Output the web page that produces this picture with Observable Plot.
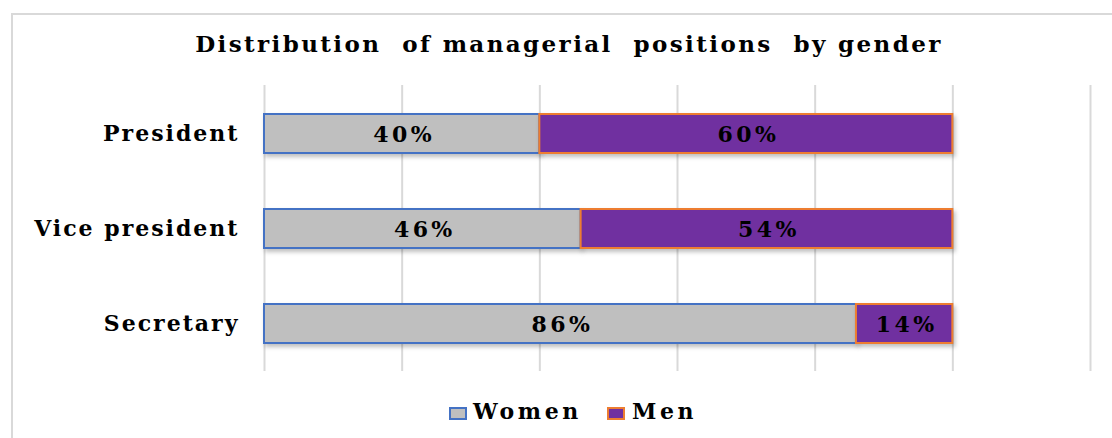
<!DOCTYPE html>
<html>
<head>
<meta charset="utf-8">
<script src="https://cdn.jsdelivr.net/npm/d3@7"></script>
<script src="https://cdn.jsdelivr.net/npm/@observablehq/plot@0.6"></script>
<style>
  html, body { margin: 0; padding: 0; background: #fff; }
  body { width: 1112px; height: 438px; overflow: hidden; position: relative; font-family: "DejaVu Serif", serif; }
  #frame { position: absolute; left: 11px; top: 13px; width: 1200px; height: 600px; border: 2px solid #d9d9d9; box-sizing: border-box; z-index: 5; pointer-events: none; }
  #title { position: absolute; left: 69px; width: 1000px; top: 30px; text-align: center; font-weight: bold; font-size: 23px; letter-spacing: 2.4px; color: #000; white-space: pre; z-index: 3; }
  #chart { position: absolute; left: 0; top: 0; }
  #legend { position: absolute; left: 0; top: 398px; font-weight: bold; font-size: 22px; color: #000; white-space: pre; z-index: 3; }
  .sw { position: absolute; width: 18px; height: 13px; box-sizing: border-box; border: 2px solid; top: 9px; }
  .lbl { position: absolute; top: 0; letter-spacing: 3.6px; }
  .bars rect { filter: drop-shadow(2px 3px 2px rgba(0,0,0,0.25)); }
</style>
</head>
<body>
<div id="frame"></div>
<div id="title">Distribution  of managerial  positions  by gender</div>
<div id="chart"></div>
<div id="legend"></div>
<script>
const roles = ["President", "Vice president", "Secretary"];
const women = [0.40, 0.46, 0.86];
const men = [0.60, 0.54, 0.14];
const genders = ["Women", "Men"];
const fills = ["#bfbfbf", "#7030a0"];
const strokes = ["#4472c4", "#ed7d31"];
const gridTicks = [0, 0.2, 0.4, 0.6, 0.8, 1.0, 1.2];

const data = [];
roles.forEach((r, i) => {
  data.push({role: r, gender: "Women", value: women[i]});
  data.push({role: r, gender: "Men", value: men[i]});
});

const stack = {x: "value", y: "role", z: "gender", order: genders};

const chart = Plot.plot({
  width: 1112,
  height: 438,
  marginTop: 85,
  marginBottom: 67,
  marginLeft: 264,
  marginRight: 22,
  style: {fontFamily: "DejaVu Serif, serif", background: "transparent", color: "#000"},
  x: {domain: [0, 1.2], axis: null},
  y: {domain: roles, paddingInner: 0.59, paddingOuter: 0.3, label: null},
  color: {domain: genders, range: fills},
  marks: [
    Plot.gridX(gridTicks, {stroke: "#d9d9d9", strokeOpacity: 1, strokeWidth: 2}),
    Plot.barX(data, Plot.stackX({
      ...stack,
      fill: "gender",
      stroke: d => strokes[genders.indexOf(d.gender)],
      strokeWidth: 2,
      className: "bars"
    })),
    Plot.text(data, Plot.stackX({
      ...stack,
      text: d => Math.round(d.value * 100) + "%",
      fill: "#000",
      fontSize: 22,
      fontWeight: "bold",
      dy: 1,
      dx: 2,
      className: "vals"
    })),
    Plot.axisY({tickSize: 0, tickPadding: 25, fontSize: 22, fontWeight: "bold", label: null, className: "ylab"})
  ]
});
document.getElementById("chart").appendChild(chart);
chart.querySelectorAll(".vals text").forEach(t => t.style.letterSpacing = "3.4px");
chart.querySelectorAll(".ylab text").forEach(t => t.style.letterSpacing = "2px");

// legend: swatch left edges and label left edges
const legendPos = [[449, 473], [607, 632]];
const legend = document.getElementById("legend");
genders.forEach((g, i) => {
  const sw = document.createElement("span");
  sw.className = "sw";
  sw.style.left = legendPos[i][0] + "px";
  sw.style.background = fills[i];
  sw.style.borderColor = strokes[i];
  legend.appendChild(sw);
  const lb = document.createElement("span");
  lb.className = "lbl";
  lb.style.left = legendPos[i][1] + "px";
  lb.textContent = g;
  legend.appendChild(lb);
});
</script>
</body>
</html>
